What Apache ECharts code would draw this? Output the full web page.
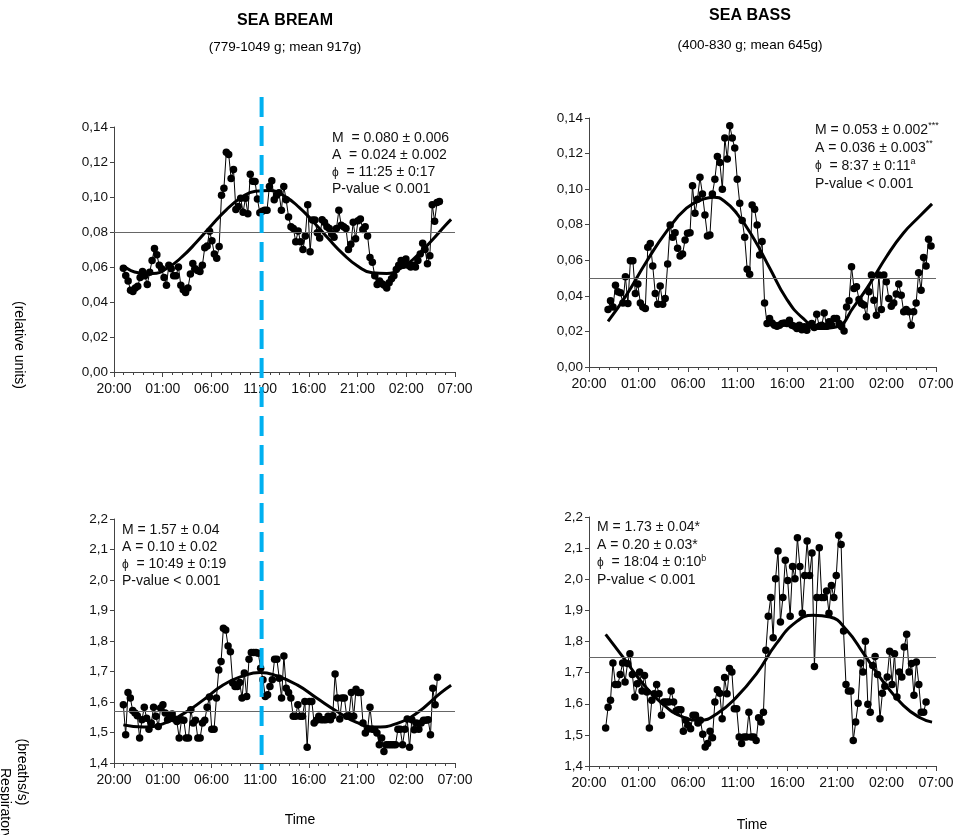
<!DOCTYPE html>
<html><head><meta charset="utf-8">
<script src="https://cdn.jsdelivr.net/npm/echarts@6.0.0/dist/echarts.min.js"></script>
<style>html,body{margin:0;padding:0;background:#fff}#c{width:963px;height:835px}</style>
</head><body><div id="c"></div>
<script>
// ---- tick labels (hours from 20:00, every 5 h) ----
const xTickLabels = ['20:00','01:00','06:00','11:00','16:00','21:00','02:00','07:00'];
const markerHour = 15.15; // dashed reference line (~11:00)

// ---- SEA BREAM activity (top-left) ----
const breamActStart = 0.96, breamActEnd = 33.4;
const breamAct = [0.0593,0.0552,0.052,0.0467,0.046,0.048,0.049,0.054,0.0575,0.055,0.050,0.057,0.0637,0.0706,0.067,0.061,0.059,0.054,0.0496,0.061,0.059,0.055,0.055,0.060,0.0496,0.047,0.0454,0.048,0.056,0.062,0.059,0.058,0.0575,0.061,0.071,0.072,0.0805,0.075,0.0674,0.065,0.0717,0.101,0.105,0.1256,0.1243,0.1106,0.1157,0.0928,0.0946,0.0993,0.0913,0.0993,0.0905,0.113,0.109,0.1089,0.0988,0.091,0.0918,0.0924,0.0924,0.106,0.1093,0.0984,0.101,0.1025,0.0924,0.106,0.0984,0.0886,0.083,0.082,0.0744,0.0806,0.0744,0.070,0.0777,0.0956,0.0687,0.0868,0.0868,0.0796,0.0766,0.087,0.0856,0.083,0.082,0.079,0.077,0.082,0.0924,0.0838,0.083,0.082,0.070,0.073,0.0856,0.0762,0.0864,0.0875,0.0815,0.083,0.0777,0.0655,0.0627,0.055,0.050,0.052,0.0505,0.0496,0.048,0.051,0.0533,0.055,0.0586,0.061,0.0637,0.061,0.0646,0.061,0.060,0.061,0.060,0.0637,0.0674,0.0736,0.070,0.0618,0.0665,0.0956,0.0862,0.0969,0.0975];
const breamActFitT = [1,2.5,4,5.5,7,8.5,10,11.5,13,14.5,16,17.5,19,20.5,22,23.5,25,26.5,28,29.5,31,32.5,34,34.6];
const breamActFitV = [0.0606,0.0567,0.0563,0.0595,0.0659,0.0744,0.0837,0.0925,0.0994,0.1033,0.1037,0.1005,0.0941,0.0856,0.0763,0.0675,0.0606,0.0567,0.0563,0.0595,0.0659,0.0744,0.0837,0.0872];
const breamActMean = 0.080;

// ---- SEA BASS activity (top-right) ----
const bassActStart = 1.92, bassActEnd = 34.5;
const bassAct = [0.0323,0.0372,0.0338,0.046,0.0423,0.0417,0.036,0.0507,0.0357,0.0598,0.0598,0.0413,0.0466,0.036,0.0338,0.0329,0.0673,0.0695,0.0568,0.0413,0.0353,0.0455,0.0353,0.0385,0.0579,0.0799,0.0729,0.0755,0.0667,0.0624,0.0635,0.0714,0.0752,0.0755,0.1019,0.0864,0.0943,0.1067,0.0973,0.0855,0.0737,0.0742,0.0973,0.1056,0.1184,0.115,0.100,0.1287,0.1169,0.1357,0.1287,0.1231,0.1056,0.0921,0.0823,0.0729,0.0549,0.0522,0.0911,0.0887,0.0799,0.063,0.0705,0.036,0.0244,0.0273,0.0248,0.0235,0.0229,0.0235,0.0244,0.0248,0.0244,0.0263,0.0235,0.0229,0.0216,0.0235,0.021,0.0226,0.0207,0.0235,0.0244,0.0222,0.0297,0.0229,0.0235,0.0304,0.0229,0.0254,0.0235,0.0273,0.0273,0.0244,0.0226,0.0203,0.0338,0.0372,0.0564,0.0442,0.0451,0.038,0.0357,0.0348,0.0282,0.0423,0.0517,0.0376,0.0291,0.0517,0.0323,0.0517,0.0479,0.0385,0.0342,0.036,0.041,0.0466,0.0404,0.031,0.0323,0.031,0.0235,0.031,0.036,0.053,0.0432,0.0616,0.0568,0.0718,0.068];
const bassActFitT = [1.92,3.77,5.79,7.81,9.83,11.6,12.6,13.6,14.9,16.6,18.25,19.9,21.6,23.3,25.0,26.7,28.35,30.0,31.7,33.4,34.6];
const bassActFitV = [0.0256,0.0404,0.0592,0.0761,0.0893,0.0945,0.0955,0.0935,0.0864,0.0724,0.0554,0.0385,0.0273,0.0216,0.0226,0.0338,0.047,0.062,0.0752,0.085,0.0917];
const bassActMean = 0.0513;

// ---- SEA BREAM respiration (bottom-left) ----
const breamRespStart = 0.96, breamRespEnd = 33.2;
const breamResp = [1.591,1.493,1.631,1.613,1.572,1.564,1.555,1.482,1.542,1.583,1.547,1.511,1.531,1.583,1.553,1.52,1.58,1.591,1.564,1.542,1.555,1.561,1.544,1.536,1.482,1.542,1.54,1.482,1.482,1.575,1.531,1.54,1.482,1.482,1.531,1.54,1.583,1.616,1.511,1.511,1.613,1.705,1.733,1.842,1.836,1.784,1.765,1.662,1.651,1.651,1.664,1.613,1.695,1.618,1.74,1.762,1.762,1.762,1.76,1.711,1.673,1.618,1.624,1.651,1.673,1.74,1.74,1.678,1.613,1.751,1.645,1.631,1.613,1.553,1.553,1.591,1.553,1.553,1.602,1.452,1.602,1.602,1.531,1.54,1.553,1.542,1.542,1.542,1.553,1.542,1.555,1.692,1.613,1.544,1.613,1.613,1.553,1.555,1.631,1.553,1.642,1.631,1.631,1.531,1.498,1.511,1.583,1.511,1.509,1.498,1.46,1.482,1.438,1.46,1.46,1.46,1.46,1.46,1.511,1.511,1.46,1.511,1.544,1.452,1.542,1.509,1.531,1.511,1.531,1.54,1.54,1.542,1.493,1.645,1.591,1.681];
const breamRespFitT = [0.96,3.0,5.07,7.1,9.18,11.2,13.3,15.0,16.7,18.8,20.8,22.9,24.9,27.0,29.0,31.1,33.5,34.6];
const breamRespFitV = [1.525,1.518,1.529,1.561,1.607,1.656,1.686,1.697,1.686,1.656,1.613,1.569,1.533,1.518,1.529,1.564,1.629,1.655];
const breamRespMean = 1.572;

// ---- SEA BASS respiration (bottom-right) ----
const bassRespStart = 1.68, bassRespEnd = 34.0;
const bassResp = [1.522,1.589,1.611,1.731,1.662,1.662,1.694,1.731,1.67,1.729,1.761,1.694,1.622,1.664,1.702,1.641,1.691,1.638,1.522,1.611,1.632,1.662,1.632,1.563,1.606,1.606,1.606,1.641,1.606,1.577,1.581,1.581,1.512,1.547,1.531,1.52,1.563,1.563,1.538,1.547,1.502,1.461,1.472,1.512,1.491,1.606,1.645,1.634,1.552,1.684,1.632,1.713,1.702,1.584,1.584,1.493,1.472,1.493,1.493,1.573,1.493,1.493,1.482,1.555,1.541,1.573,1.772,1.881,1.941,1.812,2.002,2.091,1.863,1.941,2.061,1.996,1.881,2.041,2.002,2.133,2.041,1.891,2.012,2.123,2.012,2.084,1.72,1.941,2.101,1.941,1.941,1.962,1.891,1.98,1.941,2.012,2.141,2.112,1.834,1.662,1.641,1.641,1.482,1.541,1.602,1.731,1.702,1.801,1.598,1.573,1.723,1.752,1.694,1.552,1.634,1.656,1.686,1.769,1.662,1.761,1.622,1.702,1.686,1.782,1.823,1.702,1.729,1.627,1.734,1.662,1.573,1.573,1.606];
const bassRespFitT = [1.68,3.43,5.45,7.47,9.5,11.2,12.9,14.9,16.9,18.9,20.9,22.6,24.3,26.0,27.7,29.7,31.7,33.4,34.6];
const bassRespFitV = [1.823,1.75,1.664,1.598,1.557,1.547,1.568,1.622,1.697,1.793,1.863,1.884,1.879,1.836,1.761,1.67,1.595,1.555,1.541];
const bassRespMean = 1.748;

// ---- text ----
const titles = [['SEA BREAM','(779-1049 g; mean 917g)'],['SEA BASS','(400-830 g; mean 645g)']];
const statsText = [
  'M  = 0.080 ± 0.006\nA  = 0.024 ± 0.002\n{p|ϕ}  = 11:25 ± 0:17\nP-value < 0.001',
  'M = 0.053 ± 0.002{s|***}\nA = 0.036 ± 0.003{s|**}\n{p|ϕ}  = 8:37 ± 0:11{s|a}\nP-value < 0.001',
  'M = 1.57 ± 0.04\nA = 0.10 ± 0.02\n{p|ϕ}  = 10:49 ± 0:19\nP-value < 0.001',
  'M = 1.73 ± 0.04*\nA = 0.20 ± 0.03*\n{p|ϕ}  = 18:04 ± 0:10{s|b}\nP-value < 0.001'
];

// ---------------------------------------------------------------
const FONT = '"Liberation Sans", Arial, sans-serif';
function pts(start, end, vals) {
  const n = vals.length;
  return vals.map((v, i) => [start + (end - start) * i / (n - 1), v]);
}
function zip(t, v) { return t.map((x, i) => [x, v[i]]); }

const grids = [
  {left:114, top:127, width:341, height:245},
  {left:589, top:118, width:347, height:249},
  {left:114, top:519, width:341, height:244},
  {left:589, top:517, width:347, height:249}
];
const axisColor = '#444';
const xAxes = grids.map((g, i) => ({
  type:'value', gridIndex:i, min:0, max:35, interval:5,
  axisLine:{show:true, lineStyle:{color:axisColor, width:1}},
  axisTick:{show:true, length:5, lineStyle:{color:axisColor}},
  minorTick:{show:true, splitNumber:5, length:3, lineStyle:{color:axisColor}},
  splitLine:{show:false}, minorSplitLine:{show:false},
  axisLabel:{formatter:v => xTickLabels[Math.round(v/5)], fontSize:14, color:'#111', margin:10, fontFamily:FONT}
}));
const yCfg = [
  {min:0, max:0.14, interval:0.02, dec:2},
  {min:0, max:0.14, interval:0.02, dec:2},
  {min:1.4, max:2.2, interval:0.1, dec:1},
  {min:1.4, max:2.2, interval:0.1, dec:1}
];
const yAxes = yCfg.map((c, i) => ({
  type:'value', gridIndex:i, min:c.min, max:c.max, interval:c.interval,
  axisLine:{show:true, lineStyle:{color:axisColor, width:1}},
  axisTick:{show:true, length:4, lineStyle:{color:axisColor}},
  splitLine:{show:false},
  axisLabel:{formatter:v => v.toFixed(c.dec).replace('.', ','), fontSize:13.5, color:'#111', margin:6, fontFamily:FONT}
}));

const panels = [
  {data:pts(breamActStart, breamActEnd, breamAct), fit:zip(breamActFitT, breamActFitV), mean:breamActMean},
  {data:pts(bassActStart, bassActEnd, bassAct), fit:zip(bassActFitT, bassActFitV), mean:bassActMean},
  {data:pts(breamRespStart, breamRespEnd, breamResp), fit:zip(breamRespFitT, breamRespFitV), mean:breamRespMean},
  {data:pts(bassRespStart, bassRespEnd, bassResp), fit:zip(bassRespFitT, bassRespFitV), mean:bassRespMean}
];
const series = [];
panels.forEach((p, i) => {
  series.push({
    type:'line', xAxisIndex:i, yAxisIndex:i, data:p.data,
    symbol:'circle', symbolSize:7.5, itemStyle:{color:'#000'},
    lineStyle:{color:'#000', width:1}, z:3,
    markLine:{silent:true, symbol:'none', label:{show:false},
      lineStyle:{color:'#666', width:1, type:'solid'}, data:[{yAxis:p.mean}]}
  });
  series.push({
    type:'line', xAxisIndex:i, yAxisIndex:i, data:p.fit, smooth:true,
    showSymbol:false, symbol:'none', lineStyle:{color:'#000', width:3}, z:4
  });
});

const chart = echarts.init(document.getElementById('c'), null, {renderer:'canvas'});
chart.setOption({animation:false, backgroundColor:'#fff', grid:grids, xAxis:xAxes, yAxis:yAxes, series:series});

const mx = chart.convertToPixel({xAxisIndex:0}, markerHour);
const rich = {
  p:{fontSize:12, fontFamily:FONT, fill:'#111'},
  s:{fontSize:9, fontFamily:FONT, fill:'#111', verticalAlign:'top'}
};
const statPos = [[332,129],[815,121],[122,521],[597,518.5]];
const statLH = [17.3, 18, 17.3, 17.6];
const graphics = [];
statsText.forEach((t, i) => {
  graphics.push({type:'text', x:statPos[i][0], y:statPos[i][1], z:20,
    style:{text:t, font:'14px ' + FONT, fill:'#111', lineHeight:statLH[i], textVerticalAlign:'top', rich:rich}});
});
const titlePos = [[285,21,47],[750,16,45]];
titles.forEach((t, i) => {
  graphics.push({type:'text', x:titlePos[i][0], y:titlePos[i][1], style:{text:t[0], font:'bold 16px ' + FONT, fill:'#000', textAlign:'center', textVerticalAlign:'middle'}});
  graphics.push({type:'text', x:titlePos[i][0], y:titlePos[i][2], style:{text:t[1], font:'13.5px ' + FONT, fill:'#000', textAlign:'center', textVerticalAlign:'middle'}});
});
graphics.push({type:'text', x:300, y:820, style:{text:'Time', font:'14px ' + FONT, fill:'#000', textAlign:'center', textVerticalAlign:'middle'}});
graphics.push({type:'text', x:752, y:825, style:{text:'Time', font:'14px ' + FONT, fill:'#000', textAlign:'center', textVerticalAlign:'middle'}});
graphics.push({type:'text', x:19, y:345, rotation:-Math.PI/2, style:{text:'(relative units)', font:'14px ' + FONT, fill:'#000', textAlign:'center', textVerticalAlign:'middle'}});
graphics.push({type:'text', x:22, y:772, rotation:-Math.PI/2, style:{text:'(breaths/s)', font:'14px ' + FONT, fill:'#000', textAlign:'center', textVerticalAlign:'middle'}});
graphics.push({type:'text', x:5, y:768, rotation:-Math.PI/2, style:{text:'Respiratory', font:'14px ' + FONT, fill:'#000', textAlign:'left', textVerticalAlign:'middle'}});
graphics.push({type:'line', z:30, shape:{x1:mx, y1:97, x2:mx, y2:770}, style:{stroke:'#00B0F0', lineWidth:4, lineDash:[20,9]}});
chart.setOption({graphic:graphics});
</script>
</body></html>
